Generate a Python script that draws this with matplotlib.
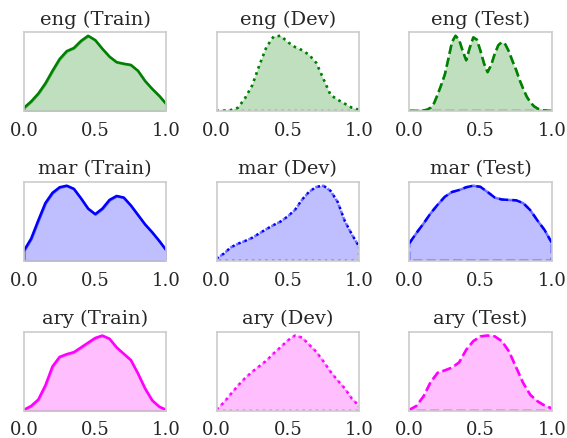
import matplotlib
matplotlib.use("Agg")
import matplotlib.pyplot as plt
import numpy as np

plt.rcParams["font.family"] = ["DejaVu Serif"]
plt.rcParams["text.color"] = ".15"
plt.rcParams["xtick.color"] = ".15"

# x grids the densities were read on
grid = np.linspace(0, 1, 21)
grid_fine = np.linspace(0, 1, 41)

languages = ["eng", "mar", "ary"]
splits = ["Train", "Dev", "Test"]
colors = {"eng": "green", "mar": "blue", "ary": "magenta"}
styles = {"Train": "-", "Dev": ":", "Test": "--"}

# relative density values
eng_train = [0.04, 0.12, 0.22, 0.35, 0.51, 0.66, 0.76, 0.80, 0.89, 0.955, 0.90,
             0.79, 0.69, 0.62, 0.60, 0.585, 0.51, 0.38, 0.28, 0.19, 0.085]
eng_dev = [0.0, 0.003, 0.01, 0.04, 0.16, 0.32, 0.57, 0.80, 0.93, 0.94, 0.86,
           0.80, 0.76, 0.70, 0.60, 0.40, 0.20, 0.14, 0.09, 0.04, 0.015]
eng_test = [0.0, 0.0, 0.0, 0.002, 0.005, 0.015, 0.04, 0.10, 0.21, 0.33, 0.46,
            0.66, 0.87, 0.95, 0.90, 0.76, 0.64, 0.80, 0.93, 0.90, 0.76,
            0.60, 0.49, 0.58, 0.72, 0.83, 0.87, 0.84, 0.75, 0.63, 0.52,
            0.39, 0.28, 0.18, 0.11, 0.06, 0.03, 0.015, 0.005, 0.002, 0.0]
mar_train = [0.13, 0.28, 0.51, 0.73, 0.86, 0.93, 0.95, 0.91, 0.79, 0.66, 0.59,
             0.66, 0.77, 0.82, 0.80, 0.70, 0.58, 0.46, 0.36, 0.25, 0.13]
mar_dev = [0.03, 0.09, 0.17, 0.215, 0.25, 0.29, 0.345, 0.40, 0.45, 0.495, 0.56,
           0.64, 0.77, 0.87, 0.93, 0.945, 0.88, 0.74, 0.50, 0.33, 0.18]
mar_test = [0.22, 0.35, 0.47, 0.60, 0.71, 0.81, 0.87, 0.895, 0.93, 0.95, 0.935,
            0.87, 0.80, 0.775, 0.77, 0.765, 0.73, 0.64, 0.51, 0.39, 0.23]
ary_train = [0.012, 0.06, 0.14, 0.32, 0.56, 0.68, 0.715, 0.74, 0.80, 0.86, 0.92,
             0.95, 0.91, 0.80, 0.72, 0.64, 0.47, 0.28, 0.13, 0.05, 0.01]
ary_dev = [0.02, 0.10, 0.21, 0.315, 0.41, 0.49, 0.56, 0.63, 0.72, 0.80, 0.885,
           0.945, 0.92, 0.83, 0.74, 0.62, 0.49, 0.38, 0.28, 0.15, 0.06]
ary_test = [0.01, 0.06, 0.18, 0.36, 0.48, 0.51, 0.545, 0.61, 0.77, 0.88, 0.94,
            0.95, 0.94, 0.88, 0.75, 0.55, 0.35, 0.20, 0.12, 0.065, 0.03]

curves = {
    ("eng", "Train"): (grid, eng_train),
    ("eng", "Dev"): (grid, eng_dev),
    ("eng", "Test"): (grid_fine, eng_test),
    ("mar", "Train"): (grid, mar_train),
    ("mar", "Dev"): (grid, mar_dev),
    ("mar", "Test"): (grid, mar_test),
    ("ary", "Train"): (grid, ary_train),
    ("ary", "Dev"): (grid, ary_dev),
    ("ary", "Test"): (grid, ary_test),
}

fig, axes = plt.subplots(3, 3, figsize=(5.67, 4.39), dpi=100)
fig.subplots_adjust(left=0.0423, right=0.973, top=0.9248, bottom=0.0622,
                    wspace=0.352, hspace=0.9)

for i, lang in enumerate(languages):
    for j, split in enumerate(splits):
        ax = axes[i, j]
        x, y = curves[(lang, split)]
        c = colors[lang]
        ls = styles[split]
        # face and edge of the filled area, edge keeps the line style
        ax.fill_between(x, y, facecolor=(*matplotlib.colors.to_rgb(c), 0.25),
                        edgecolor=(*matplotlib.colors.to_rgb(c), 0.5),
                        linestyle=ls, linewidth=1.8)
        ax.plot(x, y, color=c, linestyle=ls, linewidth=1.8)
        ax.set_xlim(0, 1)
        ax.set_ylim(0, max(y) * 1.05)
        ax.set_yticks([])
        ax.set_xticks([0, 0.5, 1.0])
        ax.set_xticklabels(["0.0", "0.5", "1.0"])
        ax.tick_params(axis="x", length=0, pad=7, labelsize=13)
        for s in ax.spines.values():
            s.set_color("#cccccc")
            s.set_linewidth(1.2)
        ax.set_title(f"{lang} ({split})", fontsize=14, pad=6)

fig.savefig("out.png", dpi=100)
